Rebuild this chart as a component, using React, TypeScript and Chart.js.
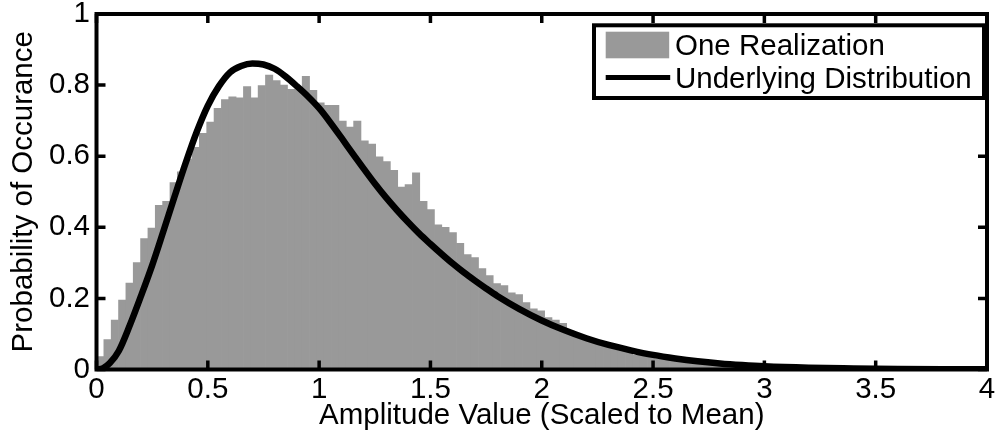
import React, { useEffect, useRef } from "react";
import { Chart, registerables } from "chart.js";

Chart.register(...registerables);

// Histogram of one realization: bins of equal width starting at 0
const binWidth = 0.033;
const binHeights = [
  0.036, 0.084, 0.139, 0.195, 0.243, 0.301, 0.368, 0.398, 0.462, 0.473,
  0.526, 0.556, 0.592, 0.625, 0.664, 0.696, 0.735, 0.759, 0.767, 0.764,
  0.796, 0.764, 0.799, 0.828, 0.813, 0.8, 0.788, 0.79, 0.825, 0.785,
  0.75, 0.743, 0.743, 0.699, 0.682, 0.699, 0.643, 0.634, 0.598, 0.585,
  0.56, 0.513, 0.52, 0.553, 0.473, 0.45, 0.407, 0.4, 0.385, 0.355,
  0.323, 0.315, 0.284, 0.264, 0.242, 0.236, 0.216, 0.211, 0.188, 0.171,
  0.165, 0.146, 0.139, 0.13, 0.109, 0.099, 0.088, 0.081, 0.075, 0.069,
  0.063, 0.057, 0.052, 0.04, 0.043, 0.036, 0.031, 0.031, 0.025, 0.024,
  0.021, 0.019, 0.017, 0.015, 0.013, 0.012, 0.01, 0.009, 0.008, 0.007,
  0.006, 0.005, 0.004, 0.004, 0.003, 0.003, 0.002, 0.002, 0.001, 0.001,
];

// Underlying probability density
const curveX = [
  0, 0.03, 0.06, 0.1, 0.15, 0.2, 0.25, 0.3, 0.35, 0.4, 0.45, 0.5, 0.55, 0.6,
  0.65, 0.7, 0.75, 0.8, 0.85, 0.9, 0.95, 1.0, 1.05, 1.1, 1.15, 1.2, 1.25, 1.3,
  1.35, 1.4, 1.45, 1.5, 1.55, 1.6, 1.65, 1.7, 1.75, 1.8, 1.9, 2.0, 2.1, 2.2,
  2.3, 2.4, 2.5, 2.6, 2.7, 2.8, 2.9, 3.0, 3.2, 3.4, 3.6, 3.8, 4.0,
];
const curveY = [
  0, 0.004, 0.018, 0.052, 0.125, 0.207, 0.293, 0.388, 0.485, 0.58, 0.668,
  0.742, 0.797, 0.836, 0.854, 0.861, 0.858, 0.846, 0.824, 0.797, 0.768,
  0.735, 0.695, 0.652, 0.608, 0.565, 0.523, 0.484, 0.448, 0.414, 0.382,
  0.353, 0.325, 0.298, 0.273, 0.25, 0.228, 0.207, 0.17, 0.138, 0.111, 0.088,
  0.069, 0.054, 0.041, 0.031, 0.023, 0.017, 0.0125, 0.009, 0.005, 0.003,
  0.0015, 0.0008, 0.0004,
];

const xTicks = [0, 0.5, 1, 1.5, 2, 2.5, 3, 3.5, 4];
const xTickLabels = ["0", "0.5", "1", "1.5", "2", "2.5", "3", "3.5", "4"];
const yTicks = [0, 0.2, 0.4, 0.6, 0.8, 1];
const yTickLabels = ["0", "0.2", "0.4", "0.6", "0.8", "1"];

const seriesLabels = ["One Realization", "Underlying Distribution"];
const xTitle = "Amplitude Value (Scaled to Mean)";
const yTitle = "Probability of Occurance";

const FONT_FAMILY = "'Liberation Sans', Arial, Helvetica, sans-serif";
const FONT_SIZE = 29.5;
const BAR_COLOR = "#999999";
const LINE_COLOR = "#000000";

// Box around the axes with inward tick marks on all four sides
const framePlugin = {
  id: "frame",
  afterDatasetsDraw(chart: any) {
    const { ctx, chartArea: a, scales } = chart;
    const tickLen = 9;
    ctx.save();
    ctx.strokeStyle = "#000";
    ctx.lineWidth = 3.5;
    ctx.beginPath();
    scales.x.ticks.forEach((t: any) => {
      const px = scales.x.getPixelForValue(t.value);
      ctx.moveTo(px, a.bottom);
      ctx.lineTo(px, a.bottom - tickLen);
      ctx.moveTo(px, a.top);
      ctx.lineTo(px, a.top + tickLen);
    });
    scales.y.ticks.forEach((t: any) => {
      const py = scales.y.getPixelForValue(t.value);
      ctx.moveTo(a.left, py);
      ctx.lineTo(a.left + tickLen, py);
      ctx.moveTo(a.right, py);
      ctx.lineTo(a.right - tickLen, py);
    });
    ctx.stroke();
    ctx.lineWidth = 4;
    ctx.strokeRect(a.left, a.top, a.right - a.left, a.bottom - a.top);
    ctx.restore();
  },
};

// Boxed legend in the upper right corner of the axes
const boxLegendPlugin = {
  id: "boxLegend",
  afterDraw(chart: any) {
    const { ctx, chartArea: a } = chart;
    const ds = chart.data.datasets;
    const w = 390;
    const h = 72.7;
    const right = a.right - 3;
    const left = right - w;
    const top = a.top + 11.3;
    ctx.save();
    ctx.fillStyle = "#fff";
    ctx.fillRect(left, top, w, h);
    ctx.strokeStyle = "#000";
    ctx.lineWidth = 4;
    ctx.strokeRect(left, top, w, h);

    const swatchX = left + 11.7;
    const swatchW = 63.5;
    // bar swatch
    ctx.fillStyle = ds[0].backgroundColor;
    ctx.fillRect(swatchX, top + 6.4, swatchW, 26.6);
    // line swatch
    ctx.strokeStyle = ds[1].borderColor;
    ctx.lineWidth = 5;
    ctx.beginPath();
    ctx.moveTo(swatchX, top + 52.2);
    ctx.lineTo(swatchX + swatchW + 1, top + 52.2);
    ctx.stroke();

    ctx.fillStyle = "#000";
    ctx.font = `${FONT_SIZE}px ${FONT_FAMILY}`;
    ctx.textAlign = "left";
    ctx.textBaseline = "middle";
    ctx.fillText(ds[0].label, left + 81, top + 21.5);
    ctx.fillText(ds[1].label, left + 81, top + 54.5);
    ctx.restore();
  },
};

export default function App() {
  const canvasRef = useRef<HTMLCanvasElement | null>(null);

  useEffect(() => {
    if (!canvasRef.current) return;
    const font = { family: FONT_FAMILY, size: FONT_SIZE };

    const chart = new Chart(canvasRef.current, {
      type: "bar",
      data: {
        datasets: [
          {
            type: "bar",
            label: seriesLabels[0],
            data: binHeights.map((h, i) => ({ x: (i + 0.5) * binWidth, y: h })),
            backgroundColor: BAR_COLOR,
            borderWidth: 0,
            barPercentage: 1,
            categoryPercentage: 1,
            order: 1,
          } as any,
          {
            type: "line",
            label: seriesLabels[1],
            data: curveX.map((x, i) => ({ x, y: curveY[i] })),
            borderColor: LINE_COLOR,
            backgroundColor: LINE_COLOR,
            borderWidth: 6.5,
            pointRadius: 0,
            fill: false,
            cubicInterpolationMode: "monotone",
            borderCapStyle: "round",
            borderJoinStyle: "round",
            order: 0,
          } as any,
        ],
      },
      options: {
        responsive: false,
        animation: false,
        layout: { padding: { top: 14, right: 12, left: 0, bottom: 0 } },
        plugins: {
          legend: { display: false },
          tooltip: { enabled: false },
        },
        scales: {
          x: {
            type: "linear",
            min: 0,
            max: 4,
            offset: false,
            grid: { display: false, drawTicks: false },
            border: { display: false },
            afterBuildTicks: (scale: any) => {
              scale.ticks = xTicks.map((v) => ({ value: v }));
            },
            afterFit: (scale: any) => {
              scale.height = 72.5;
              scale.paddingLeft = 0;
              scale.paddingRight = 0;
            },
            ticks: {
              font,
              color: "#000",
              padding: 2.5,
              autoSkip: false,
              maxRotation: 0,
              callback: (_v: any, i: number) => xTickLabels[i],
            },
            title: {
              display: true,
              text: xTitle,
              font,
              color: "#000",
              padding: { top: 0, bottom: 8 },
            },
          },
          y: {
            type: "linear",
            min: 0,
            max: 1,
            grid: { display: false, drawTicks: false },
            border: { display: false },
            afterBuildTicks: (scale: any) => {
              scale.ticks = yTicks.map((v) => ({ value: v }));
            },
            afterFit: (scale: any) => {
              scale.width = 96.5;
              scale.paddingTop = 0;
              scale.paddingBottom = 0;
            },
            ticks: {
              font,
              color: "#000",
              padding: 6.5,
              autoSkip: false,
              callback: (_v: any, i: number) => yTickLabels[i],
            },
            title: {
              display: true,
              text: yTitle,
              font,
              color: "#000",
              padding: { top: 6.5, bottom: 0 },
            },
          },
        },
      } as any,
      plugins: [framePlugin, boxLegendPlugin],
    });

    return () => chart.destroy();
  }, []);

  return (
    <div
      style={{
        position: "absolute",
        left: 0,
        top: 0,
        width: 999,
        height: 442,
        background: "#fff",
      }}
    >
      <canvas ref={canvasRef} width={999} height={442} style={{ display: "block" }} />
    </div>
  );
}
